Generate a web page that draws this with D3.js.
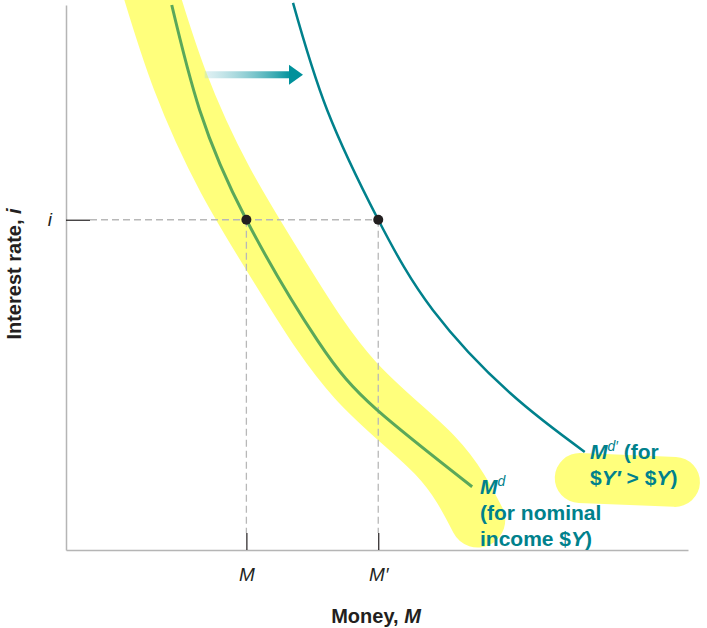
<!DOCTYPE html>
<html>
<head>
<meta charset="utf-8">
<script src="https://cdn.jsdelivr.net/npm/d3@7"></script>
<style>
  body { margin: 0; background: #fff; }
  svg { display: block; font-family: "Liberation Sans", Arial, sans-serif; }
</style>
</head>
<body>
<div id="chart"></div>
<script>
// money / interest rate in arbitrary units (0-100)
const mdPoints = [
  [17.0, 100], [21.5, 80.7], [29.0, 60.6], [40.4, 38.5], [50.0, 25.7], [65.3, 11.6]
];
const mdPrimePoints = [
  [36.5, 100.4], [42.0, 80.7], [50.2, 60.6], [59.0, 44.0], [71.4, 28.8], [83.4, 18.0]
];
// hand-drawn highlighter strokes
const highlightBand = [
  [13.5, 102.8], [18.3, 86.2], [25.6, 67.9], [35.2, 49.5], [46.5, 31.2],
  [59.3, 17.4], [66.2, 5.5]
];
const highlightLabel = [[82.6, 13.2], [97.9, 12.5]];

const rateI = 60.6;
const moneyM = [29.0, 50.2];
const moneyLabels = ["M", "M\u2032"];
const shiftArrow = [[22.3, 87.2], [38.1, 87.2]];

const width = 707, height = 628;
const teal = "#00818c", green = "#5ba85a", ink = "#231f20";

const svg = d3.select("#chart").append("svg")
    .attr("width", width)
    .attr("height", height);

const x = d3.scaleLinear().domain([0, 100]).range([66, 688]);
const y = d3.scaleLinear().domain([0, 100]).range([550, 5]);

const line = d3.line()
    .x(d => x(d[0]))
    .y(d => y(d[1]))
    .curve(d3.curveNatural);

// yellow highlighter
svg.append("path")
    .attr("d", line(highlightBand))
    .attr("fill", "none")
    .attr("stroke", "#ffff7c")
    .attr("stroke-width", 55)
    .attr("stroke-linecap", "round")
    .attr("stroke-linejoin", "round");

svg.append("path")
    .attr("d", line(highlightLabel))
    .attr("fill", "none")
    .attr("stroke", "#ffff7c")
    .attr("stroke-width", 50)
    .attr("stroke-linecap", "round");

// axes
const xAxis = svg.append("g")
    .attr("transform", `translate(0,${y(0)})`)
    .call(d3.axisBottom(x).tickValues(moneyM).tickSize(-17).tickSizeOuter(0)
        .tickPadding(18).tickFormat((d, i) => moneyLabels[i]));

const yAxis = svg.append("g")
    .attr("transform", `translate(${x(0)},0)`)
    .call(d3.axisLeft(y).tickValues([rateI]).tickSize(-24).tickSizeOuter(0)
        .tickPadding(14).tickFormat(() => "i"));

[xAxis, yAxis].forEach(g => {
  g.select(".domain").attr("stroke", "#b5b5b5").attr("stroke-width", 1.5);
  g.selectAll(".tick line").attr("stroke", ink).attr("stroke-width", 1.2);
  g.selectAll(".tick text")
      .attr("fill", ink)
      .style("font-size", "19px")
      .style("font-style", "italic")
      .style("font-family", "Liberation Sans, Arial, sans-serif");
});

// dashed guides
svg.append("line")
    .attr("x1", x(0) + 24).attr("x2", x(moneyM[1]))
    .attr("y1", y(rateI)).attr("y2", y(rateI))
    .attr("stroke", "#b8b8b8").attr("stroke-width", 1.3)
    .attr("stroke-dasharray", "7,4");

svg.selectAll(".vguide")
    .data(moneyM)
    .enter().append("line")
    .attr("class", "vguide")
    .attr("x1", d => x(d)).attr("x2", d => x(d))
    .attr("y1", y(rateI)).attr("y2", y(0) - 17)
    .attr("stroke", "#b8b8b8").attr("stroke-width", 1.3)
    .attr("stroke-dasharray", "7,4");

// demand curves
svg.append("path")
    .attr("d", line(mdPoints))
    .attr("fill", "none")
    .attr("stroke", green)
    .attr("stroke-width", 3);

svg.append("path")
    .attr("d", line(mdPrimePoints))
    .attr("fill", "none")
    .attr("stroke", teal)
    .attr("stroke-width", 2.5);

// equilibrium dots
svg.selectAll(".dot")
    .data(moneyM)
    .enter().append("circle")
    .attr("cx", d => x(d))
    .attr("cy", y(rateI))
    .attr("r", 5)
    .attr("fill", ink);

// shift arrow
const grad = svg.append("defs").append("linearGradient")
    .attr("id", "arrowGrad")
    .attr("gradientUnits", "userSpaceOnUse")
    .attr("x1", x(shiftArrow[0][0])).attr("x2", x(shiftArrow[1][0]) - 12)
    .attr("y1", 0).attr("y2", 0);
grad.append("stop").attr("offset", 0).attr("stop-color", "#a9d8df").attr("stop-opacity", 0.35);
grad.append("stop").attr("offset", 1).attr("stop-color", "#00919b").attr("stop-opacity", 1);

const ax0 = x(shiftArrow[0][0]), ax1 = x(shiftArrow[1][0]), ay = y(shiftArrow[0][1]);
svg.append("rect")
    .attr("x", ax0).attr("y", ay - 3.5)
    .attr("width", ax1 - 14 - ax0).attr("height", 7)
    .attr("fill", "url(#arrowGrad)");
svg.append("path")
    .attr("d", `M${ax1 - 14},${ay - 10}L${ax1},${ay}L${ax1 - 14},${ay + 10}Z`)
    .attr("fill", "#00919b");

// curve labels
const lbl = svg.append("g")
    .attr("fill", teal)
    .style("font-size", "21px")
    .style("font-weight", "bold");

const md = lbl.append("text").attr("x", 480).attr("y", 494);
md.append("tspan").style("font-style", "italic").text("M");
md.append("tspan").attr("dy", -8).style("font-size", "14px").style("font-style", "italic")
    .style("font-weight", "normal").text("d");
lbl.append("text").attr("x", 480).attr("y", 520).text("(for nominal");
const inc = lbl.append("text").attr("x", 480).attr("y", 546);
inc.append("tspan").text("income $");
inc.append("tspan").style("font-style", "italic").text("Y");
inc.append("tspan").text(")");

const mdp = lbl.append("text").attr("x", 590).attr("y", 459);
mdp.append("tspan").style("font-style", "italic").text("M");
mdp.append("tspan").attr("dy", -8).style("font-size", "14px").style("font-style", "italic")
    .style("font-weight", "normal").text("d\u2032");
mdp.append("tspan").attr("dy", 8).text(" (for");
const yy = lbl.append("text").attr("x", 590).attr("y", 485);
yy.append("tspan").text("$");
yy.append("tspan").style("font-style", "italic").text("Y\u2032");
yy.append("tspan").text(" > $");
yy.append("tspan").style("font-style", "italic").text("Y");
yy.append("tspan").text(")");

// axis titles
const xTitle = svg.append("text")
    .attr("x", 376).attr("y", 623)
    .attr("text-anchor", "middle")
    .attr("fill", ink)
    .style("font-size", "20px")
    .style("font-weight", "bold");
xTitle.append("tspan").text("Money, ");
xTitle.append("tspan").style("font-style", "italic").text("M");

const yTitle = svg.append("text")
    .attr("transform", "translate(21,274) rotate(-90)")
    .attr("text-anchor", "middle")
    .attr("fill", ink)
    .style("font-size", "20px")
    .style("font-weight", "bold");
yTitle.append("tspan").text("Interest rate, ");
yTitle.append("tspan").style("font-style", "italic").text("i");
</script>
</body>
</html>
